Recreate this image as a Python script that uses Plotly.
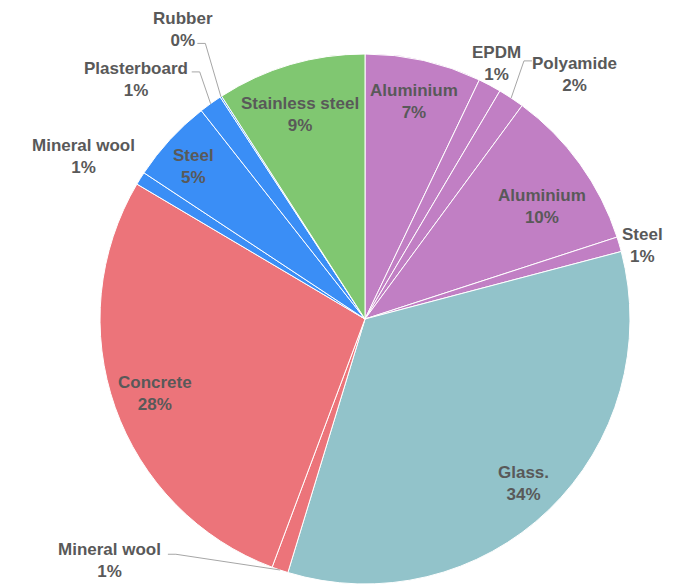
import math
import plotly.graph_objects as go

# ---------------- data ----------------
materials = ["Aluminium", "EPDM", "Polyamide", "Aluminium", "Steel", "Glass.",
             "Mineral wool", "Concrete", "Mineral wool", "Steel", "Plasterboard",
             "Rubber", "Stainless steel"]
shares = [7.1, 1.4, 1.6, 9.9, 0.9, 33.8, 1.0, 27.8, 0.8, 5.1, 1.4, 0.1, 9.1]
groups = ["frame", "frame", "frame", "frame", "frame", "glazing",
          "wall", "wall", "cladding", "cladding", "cladding", "cladding", "structure"]

# ---------------- style ----------------
W, H = 682, 584
CX, CY, R = 365, 319, 265
group_colors = {"frame": "#C17FC4", "glazing": "#92C3CA", "wall": "#EC747A",
                "cladding": "#3A8EF6", "structure": "#80C771"}
text_color = "#595959"
font_family = "Liberation Sans, Arial, sans-serif"
font_size = 17
inside_r = 0.84
# per-slice label placement:
#   ("in", angle or None (mid-angle), radius factor)
#   ("out", angle, radius factor, leader attach offset or None)
label_place = [("in", None, 0.84),
               ("out", 27.3, 1.083, None),
               ("out", 40.7, 1.215, (-43, -14)),
               ("in", 57.5, 0.79),
               ("out", 75.1, 1.085, None),
               ("in", 136.2, 0.862),
               ("out", 226.6, 1.325, (58, -6)),
               ("in", None, 0.84),
               ("out", 300.1, 1.226, None),
               ("in", 311.8, 0.866),
               ("out", 316.2, 1.25, (56, -8)),
               ("out", 327.9, 1.29, (14, 14)),
               ("in", 342.4, 0.81)]


def px(x):
    return x / W


def py(y):
    return 1 - y / H


total = sum(shares)
colors = [group_colors[g] for g in groups]

fig = go.Figure(go.Pie(
    labels=[f"{m} #{i}" for i, m in enumerate(materials)],
    values=shares,
    sort=False,
    direction="clockwise",
    rotation=0,
    textinfo="none",
    hoverinfo="none",
    marker=dict(colors=colors, line=dict(color="white", width=1)),
    domain=dict(x=[px(CX - R), px(CX + R)], y=[py(CY + R), py(CY - R)]),
    showlegend=False,
))

annotations = []
shapes = []
cum = 0.0
for i, (m, v) in enumerate(zip(materials, shares)):
    mid = (cum + v / 2) / total * 360.0
    cum += v
    pct = round(v / total * 100)
    txt = f"{m}<br>{pct}%"
    place = label_place[i]
    ang = place[1] if place[1] is not None else mid
    rf = place[2]
    a = math.radians(ang)
    lx = CX + rf * R * math.sin(a)
    ly = CY - rf * R * math.cos(a)
    if place[0] == "out" and place[3] is not None:
        leader = place[3]
        ax0 = lx + leader[0]
        ay0 = ly + leader[1]
        step = 8 if leader[0] > 0 else -8
        am = math.radians(mid)
        ex = CX + R * math.sin(am)
        ey = CY - R * math.cos(am)
        shapes.append(dict(
            type="path", xref="paper", yref="paper",
            path=f"M {px(ax0)},{py(ay0)} L {px(ax0 + step)},{py(ay0)} L {px(ex)},{py(ey)}",
            line=dict(color="#A6A6A6", width=1)))
    annotations.append(dict(
        x=px(lx), y=py(ly), xref="paper", yref="paper", text=txt, showarrow=False,
        xanchor="center", yanchor="middle", align="center",
        font=dict(family=font_family, size=font_size, color=text_color, weight="bold")))

fig.update_layout(
    width=W, height=H, autosize=False,
    margin=dict(l=0, r=0, t=0, b=0),
    paper_bgcolor="white", plot_bgcolor="white",
    annotations=annotations, shapes=shapes,
)

fig.write_html("out.html", config={"displayModeBar": False},
               post_script="document.body.style.margin='0';")
